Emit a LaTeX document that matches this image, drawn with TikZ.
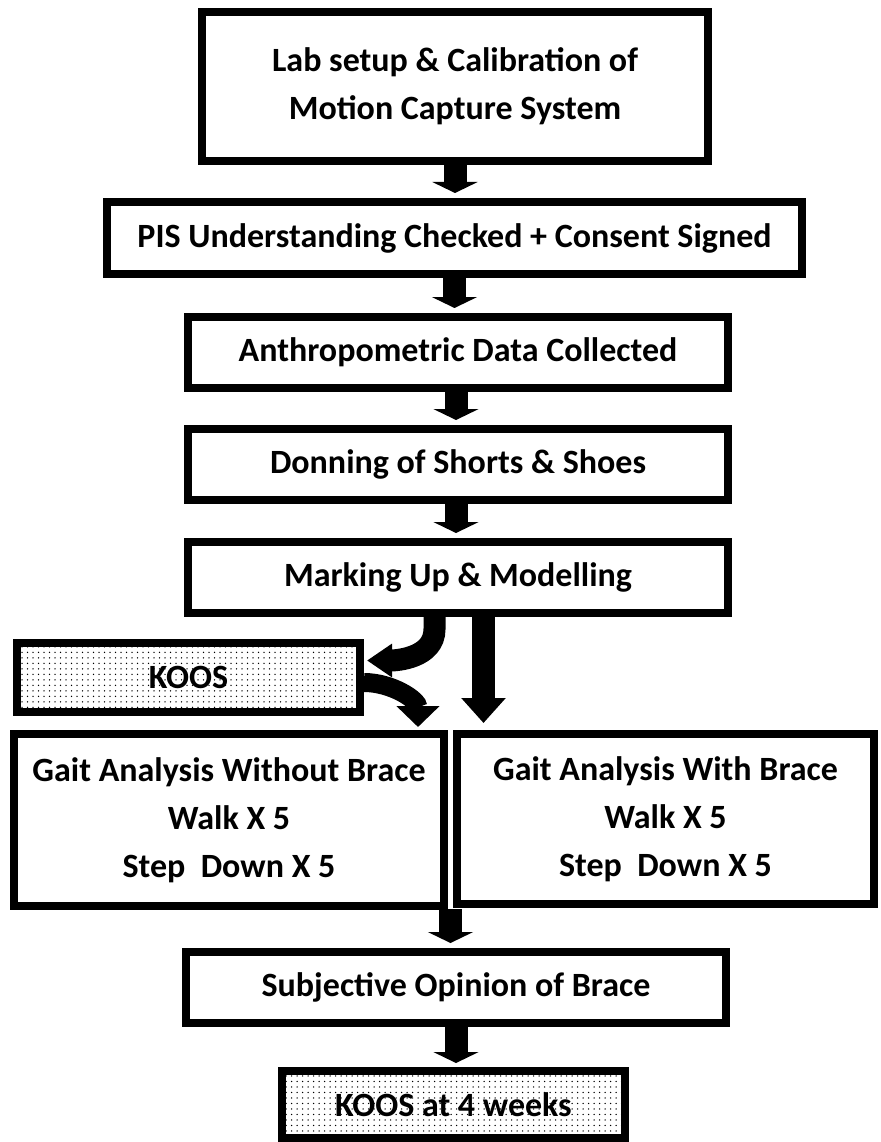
\documentclass[tikz,border=0pt]{standalone}
\usepackage{fontspec}
\setmainfont{Carlito}
\usetikzlibrary{arrows.meta,calc,patterns.meta}

\tikzset{
  stage/.style={draw, line width=8pt, rectangle, inner sep=0pt, align=center,
    font=\bfseries\fontsize{34}{48}\selectfont},
  dotbox/.style={stage, pattern={Dots[distance=5.5pt,radius=0.75pt]}, pattern color=black},
  flowarrow/.style={line width=23pt, -{Triangle[length=11pt,width=45pt]}},
  bigarrow/.style={line width=23pt, -{Triangle[length=25pt,width=43pt]}},
}

\begin{document}
\begin{tikzpicture}[x=1pt,y=-1pt]
\useasboundingbox (0,0) rectangle (880,1142);
% main column
\node [stage, minimum width=506pt, minimum height=149pt] (lab) at (455,86.5) {Lab setup \& Calibration of\\Motion Capture System};
\node [stage, minimum width=695pt, minimum height=72pt] (pis) at (454.5,238) {PIS Understanding Checked + Consent Signed};
\node [stage, minimum width=540pt, minimum height=71pt] (anthro) at (458,352.5) {Anthropometric Data Collected};
\node [stage, minimum width=540pt, minimum height=71pt] (donning) at (458,464.5) {Donning of Shorts \& Shoes};
\node [stage, minimum width=540pt, minimum height=71pt] (marking) at (458,577.5) {Marking Up \& Modelling};
% side questionnaire
\node [dotbox, minimum width=343pt, minimum height=69pt] (koos) at (188.5,677.5) {KOOS};
% the two gait sessions
\node [stage, minimum width=430pt, minimum height=172pt] (gaitno) at (229,820) {Gait Analysis Without Brace\\Walk X 5\\Step\ \ Down X 5};
\node [stage, minimum width=417pt, minimum height=170pt] (gaitwith) at (665.5,819) {Gait Analysis With Brace\\Walk X 5\\Step\ \ Down X 5};
\coordinate (gap) at ($(gaitno.south east)!0.5!(gaitwith.south west)$);
\node [stage, minimum width=540pt, minimum height=71pt] (subj) at (456,987.5) {Subjective Opinion of Brace};
\node [dotbox, minimum width=343pt, minimum height=67pt] (koosfour) at (453.5,1104.5) {KOOS at 4 weeks};

% arrows
\draw [flowarrow, shorten >=5pt] (lab.south) -- (lab.south |- pis.north);
\draw [flowarrow, shorten >=5pt] (pis.south) -- (pis.south |- anthro.north);
\draw [flowarrow, shorten >=5pt] ([xshift=-2pt]anthro.south) -- ([xshift=-2pt]anthro.south |- donning.north);
\draw [flowarrow, shorten >=5pt] ([xshift=-2pt]donning.south) -- ([xshift=-2pt]donning.south |- marking.north);
\draw [line width=22pt, -{Triangle[length=25pt,width=32pt]}]
  ([xshift=-23.5pt]marking.south) -- ++(0,12) to [out=-90,in=0] ([xshift=3pt,yshift=17pt]koos.east);
\draw [bigarrow, shorten >=7pt] ([xshift=25.5pt]marking.south) -- ([xshift=25.5pt]marking.south |- gaitwith.north);
\draw [line width=19pt, -{Triangle[length=21pt,width=42pt]}]
  ([yshift=-5pt]koos.east) to [out=0,in=90] ([yshift=3pt]gaitno.north -| 418,0);
\draw [flowarrow, shorten >=5pt] (gap) -- (gap |- subj.north);
\draw [flowarrow, shorten >=4pt] (subj.south) -- (subj.south |- koosfour.north);
\end{tikzpicture}
\end{document}
